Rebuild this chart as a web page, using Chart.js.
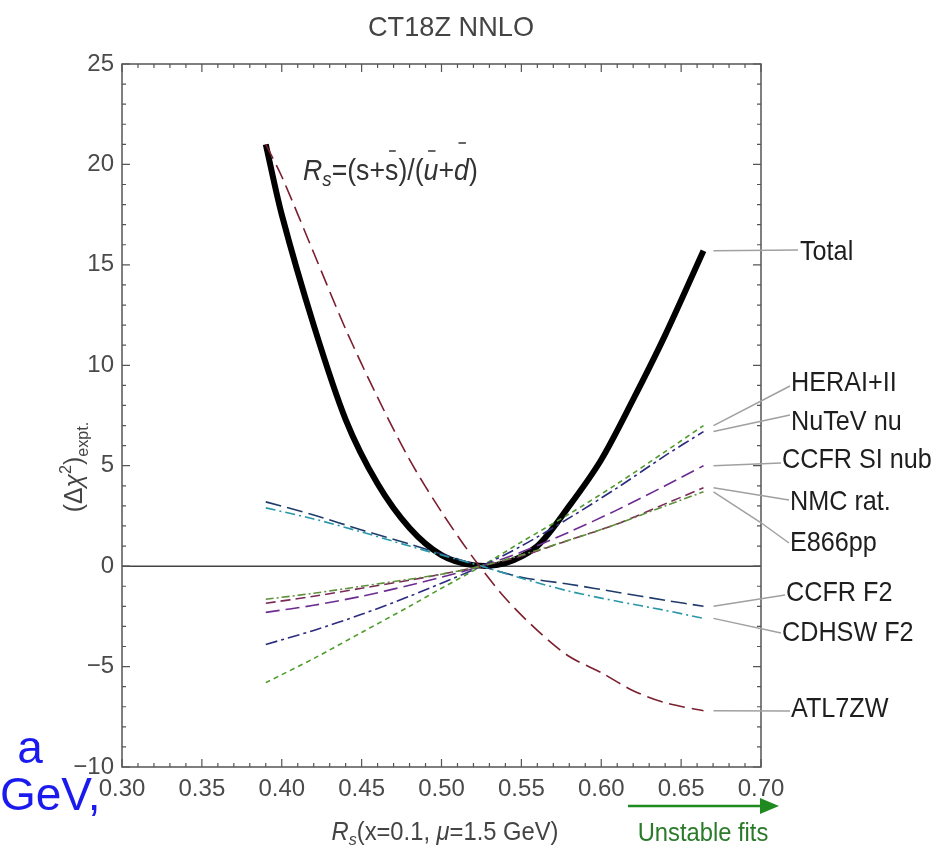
<!DOCTYPE html>
<html>
<head>
<meta charset="utf-8">
<script src="https://cdn.jsdelivr.net/npm/chart.js@4.4.1/dist/chart.umd.min.js"></script>
<style>
  html, body { margin: 0; padding: 0; background: #fff; }
  #wrap { width: 948px; height: 852px; }
</style>
</head>
<body>
<div id="wrap"><canvas id="myChart" width="948" height="852"></canvas></div>
<script>
// Rs values of the fits (total and ATL7ZW)
const rsTotal = [0.39, 0.40, 0.42, 0.44, 0.46, 0.48, 0.50, 0.52, 0.54, 0.56, 0.58, 0.60, 0.62, 0.64, 0.664];
const totalChi2 = [21.0, 17.5, 12.0, 7.3, 4.1, 1.9, 0.55, 0.05, 0.15, 1.0, 3.0, 5.3, 8.3, 11.5, 15.7];
const atl7zwChi2 = [21.0, 19.4, 15.6, 11.8, 8.4, 5.3, 2.7, 0.4, -1.6, -3.2, -4.5, -5.3, -6.2, -6.8, -7.2];

// Rs values for the other experiments
const rsExpt = [0.39, 0.42, 0.45, 0.48, 0.50, 0.525, 0.55, 0.58, 0.61, 0.64, 0.664];
const heraChi2 = [-5.8, -4.6, -3.3, -2.0, -1.1, 0.0, 1.2, 2.6, 4.1, 5.7, 7.0];
const nutevChi2 = [-3.9, -3.2, -2.4, -1.5, -0.85, 0.0, 1.0, 2.4, 3.9, 5.5, 6.7];
const ccfrSiChi2 = [-2.3, -1.95, -1.5, -0.95, -0.55, 0.0, 0.7, 1.7, 2.8, 4.0, 5.0];
const nmcChi2 = [-1.85, -1.5, -1.1, -0.7, -0.4, 0.0, 0.5, 1.3, 2.1, 3.1, 3.9];
const e866Chi2 = [-1.65, -1.35, -1.0, -0.65, -0.4, 0.0, 0.55, 1.3, 2.1, 3.0, 3.7];
const ccfrF2Chi2 = [3.2, 2.55, 1.8, 1.1, 0.6, 0.0, -0.55, -0.9, -1.3, -1.7, -2.0];
const cdhswChi2 = [2.9, 2.35, 1.7, 1.0, 0.55, 0.0, -0.6, -1.25, -1.75, -2.2, -2.6];

const seriesNames = ['Total', 'HERAI+II', 'NuTeV nu', 'CCFR SI nub', 'NMC rat.', 'E866pp', 'CCFR F2', 'CDHSW F2', 'ATL7ZW'];

function toPoints(xs, ys) {
    return xs.map((x, i) => ({x: x, y: ys[i]}));
}

// line looks
const styles = {
    'Total':       {color: '#000000', width: 6,   dash: []},
    'HERAI+II':    {color: '#4f9c2c', width: 1.6, dash: [5, 4]},
    'NuTeV nu':    {color: '#2b2b80', width: 1.6, dash: [12, 4, 3, 4]},
    'CCFR SI nub': {color: '#6c2c90', width: 1.6, dash: [14, 6]},
    'NMC rat.':    {color: '#7a2a58', width: 1.6, dash: [10, 5]},
    'E866pp':      {color: '#5f903a', width: 1.6, dash: [8, 3, 2, 3]},
    'CCFR F2':     {color: '#1f3b6b', width: 1.6, dash: [16, 6]},
    'CDHSW F2':    {color: '#2a97a8', width: 1.6, dash: [10, 4, 2, 4]},
    'ATL7ZW':      {color: '#7b1f2e', width: 1.6, dash: [16, 7]},
};

const seriesData = {
    'Total': toPoints(rsTotal, totalChi2),
    'HERAI+II': toPoints(rsExpt, heraChi2),
    'NuTeV nu': toPoints(rsExpt, nutevChi2),
    'CCFR SI nub': toPoints(rsExpt, ccfrSiChi2),
    'NMC rat.': toPoints(rsExpt, nmcChi2),
    'E866pp': toPoints(rsExpt, e866Chi2),
    'CCFR F2': toPoints(rsExpt, ccfrF2Chi2),
    'CDHSW F2': toPoints(rsExpt, cdhswChi2),
    'ATL7ZW': toPoints(rsTotal, atl7zwChi2),
};

// where the right-hand labels sit (text pos, leader end, optional bend)
const labelLayout = {
    'Total':       {tx: 800, ty: 252, lx: 798, ly: 250},
    'HERAI+II':    {tx: 791, ty: 383, lx: 790, ly: 386},
    'NuTeV nu':    {tx: 791, ty: 422, lx: 790, ly: 415},
    'CCFR SI nub': {tx: 782, ty: 460, lx: 781, ly: 463},
    'NMC rat.':    {tx: 790, ty: 502, lx: 789, ly: 500},
    'E866pp':      {tx: 790, ty: 543, lx: 789, ly: 543, bx: 760, by: 522},
    'CCFR F2':     {tx: 786, ty: 593, lx: 785, ly: 595},
    'CDHSW F2':    {tx: 782, ty: 633, lx: 781, ly: 633},
    'ATL7ZW':      {tx: 791, ty: 709, lx: 790, ly: 711},
};

const FONT = '"Liberation Sans", Arial, sans-serif';

function drawText(ctx, s, x, y, size, color, align, sx, style) {
    ctx.save();
    ctx.font = (style || '') + ' ' + size + 'px ' + FONT;
    ctx.fillStyle = color;
    ctx.textBaseline = 'middle';
    ctx.textAlign = align || 'left';
    ctx.translate(x, y);
    ctx.scale(sx || 1, 1);
    ctx.fillText(s, 0, 0);
    ctx.restore();
}

// draw a list of text pieces along the baseline, returns nothing
function drawPieces(ctx, pieces, x, y, sx) {
    ctx.save();
    ctx.translate(x, y);
    ctx.scale(sx, 1);
    ctx.textBaseline = 'alphabetic';
    let cx = 0;
    pieces.forEach(p => {
        ctx.font = (p.style || '') + ' ' + p.size + 'px ' + FONT;
        ctx.fillStyle = p.color || '#333';
        ctx.fillText(p.t, cx, p.dy || 0);
        const w = ctx.measureText(p.t).width;
        if (p.bar) {
            ctx.strokeStyle = p.color || '#333';
            ctx.lineWidth = 1.5;
            ctx.beginPath();
            ctx.moveTo(cx + w * 0.3, -p.bar);
            ctx.lineTo(cx + w * 0.8, -p.bar);
            ctx.stroke();
        }
        cx += w;
    });
    ctx.restore();
}

function piecesWidth(ctx, pieces) {
    let w = 0;
    pieces.forEach(p => {
        ctx.font = (p.style || '') + ' ' + p.size + 'px ' + FONT;
        w += ctx.measureText(p.t).width;
    });
    return w;
}

const decorPlugin = {
    id: 'decor',
    beforeDatasetsDraw(chart) {
        const {ctx, chartArea: a, scales: {y}} = chart;
        // zero line
        const y0 = y.getPixelForValue(0);
        ctx.save();
        ctx.strokeStyle = '#444';
        ctx.lineWidth = 1.5;
        ctx.beginPath();
        ctx.moveTo(a.left, y0);
        ctx.lineTo(a.right, y0);
        ctx.stroke();
        ctx.restore();
    },
    afterDraw(chart) {
        const {ctx, chartArea: a, scales: {x, y}} = chart;
        ctx.save();
        // frame
        ctx.strokeStyle = '#555';
        ctx.lineWidth = 1.5;
        ctx.strokeRect(a.left, a.top, a.right - a.left, a.bottom - a.top);

        // inward ticks on all four sides
        ctx.lineWidth = 1.2;
        ctx.beginPath();
        for (let i = 30; i <= 70; i++) {
            const px = x.getPixelForValue(i / 100);
            const len = i % 5 === 0 ? 8 : 4;
            ctx.moveTo(px, a.bottom); ctx.lineTo(px, a.bottom - len);
            ctx.moveTo(px, a.top); ctx.lineTo(px, a.top + len);
        }
        for (let j = -10; j <= 25; j++) {
            const py = y.getPixelForValue(j);
            const len = j % 5 === 0 ? 8 : 4;
            ctx.moveTo(a.left, py); ctx.lineTo(a.left + len, py);
            ctx.moveTo(a.right, py); ctx.lineTo(a.right - len, py);
        }
        ctx.stroke();

        // leader lines + labels
        ctx.strokeStyle = '#a0a0a0';
        ctx.lineWidth = 1.5;
        seriesNames.forEach(name => {
            const pts = seriesData[name];
            const last = pts[pts.length - 1];
            const sxp = x.getPixelForValue(last.x) + 10;
            const syp = y.getPixelForValue(last.y);
            const L = labelLayout[name];
            ctx.beginPath();
            ctx.moveTo(sxp, syp);
            if (L.bx) ctx.lineTo(L.bx, L.by);
            ctx.lineTo(L.lx, L.ly);
            ctx.stroke();
            drawText(ctx, name, L.tx, L.ty, 28, '#1e1e1e', 'left', 0.9);
        });

        // title
        drawText(ctx, 'CT18Z NNLO', 451, 28, 28, '#444', 'center', 0.97);

        // formula inside the frame
        const formula = [
            {t: 'R', size: 30, style: 'italic'},
            {t: 's', size: 21, style: 'italic', dy: 6},
            {t: '=(s+', size: 30},
            {t: 's', size: 30, bar: 29},
            {t: ')/(', size: 30},
            {t: 'u', size: 30, style: 'italic', bar: 29},
            {t: '+', size: 30},
            {t: 'd', size: 30, style: 'italic', bar: 37},
            {t: ')', size: 30},
        ];
        drawPieces(ctx, formula, 303, 180, 0.89);

        // x axis title
        const xTitle = [
            {t: 'R', size: 25, style: 'italic', color: '#444'},
            {t: 's', size: 17, style: 'italic', dy: 5, color: '#444'},
            {t: '(x=0.1, ', size: 25, color: '#444'},
            {t: '\u03bc', size: 25, style: 'italic', color: '#444'},
            {t: '=1.5 GeV)', size: 25, color: '#444'},
        ];
        const xw = piecesWidth(ctx, xTitle) * 0.95;
        drawPieces(ctx, xTitle, 445 - xw / 2, 840, 0.95);

        // y axis title, rotated
        const yTitle = [
            {t: '(\u0394', size: 26, color: '#444'},
            {t: '\u03c7', size: 26, style: 'italic', color: '#444'},
            {t: '2', size: 17, dy: -11, color: '#444'},
            {t: ')', size: 26, color: '#444'},
            {t: 'expt.', size: 17, dy: 6, color: '#444'},
        ];
        const yw = piecesWidth(ctx, yTitle) * 0.95;
        ctx.save();
        ctx.translate(82, 467);
        ctx.rotate(-Math.PI / 2);
        drawPieces(ctx, yTitle, -yw / 2, 0, 0.95);
        ctx.restore();

        // unstable fits arrow
        ctx.strokeStyle = '#1f8a1f';
        ctx.fillStyle = '#1f8a1f';
        ctx.lineWidth = 2.5;
        ctx.beginPath();
        ctx.moveTo(628, 806);
        ctx.lineTo(764, 806);
        ctx.stroke();
        ctx.beginPath();
        ctx.moveTo(779, 806);
        ctx.lineTo(760, 798);
        ctx.lineTo(760, 814);
        ctx.closePath();
        ctx.fill();
        drawText(ctx, 'Unstable fits', 703, 834, 25, '#2a7a2a', 'center', 0.95);

        // stray blue text at the lower left
        drawText(ctx, 'a', 30, 750, 46, '#1a1aee', 'center', 1);
        drawText(ctx, 'GeV,', 0, 797, 46, '#1a1aee', 'left', 1);
        ctx.restore();
    }
};

const ctx = document.getElementById('myChart');

const datasets = seriesNames.slice().reverse().map(name => ({
    label: name,
    data: seriesData[name],
    borderColor: styles[name].color,
    borderWidth: styles[name].width,
    borderDash: styles[name].dash,
    pointRadius: 0,
    fill: false,
    tension: 0.3,
}));

new Chart(ctx, {
    type: 'line',
    data: {datasets: datasets},
    options: {
        responsive: false,
        animation: false,
        devicePixelRatio: 1,
        layout: {padding: {left: 0, right: 187, top: 64, bottom: 0}},
        plugins: {
            legend: {display: false},
            tooltip: {enabled: false},
            title: {display: false},
        },
        scales: {
            x: {
                type: 'linear',
                min: 0.30,
                max: 0.70,
                grid: {display: false, drawTicks: false},
                border: {display: false},
                ticks: {
                    stepSize: 0.05,
                    padding: 8,
                    color: '#4a4a4a',
                    font: {family: FONT, size: 24},
                    maxRotation: 0,
                    callback: v => v.toFixed(2),
                },
                afterFit: s => { s.height = 85; },
            },
            y: {
                type: 'linear',
                min: -10,
                max: 25,
                grid: {display: false, drawTicks: false},
                border: {display: false},
                ticks: {
                    stepSize: 5,
                    padding: 8,
                    color: '#4a4a4a',
                    font: {family: FONT, size: 24},
                    callback: v => (v < 0 ? '\u2212' + Math.abs(v) : '' + v),
                },
                afterFit: s => { s.width = 122; },
            },
        },
    },
    plugins: [decorPlugin],
});
</script>
</body>
</html>
